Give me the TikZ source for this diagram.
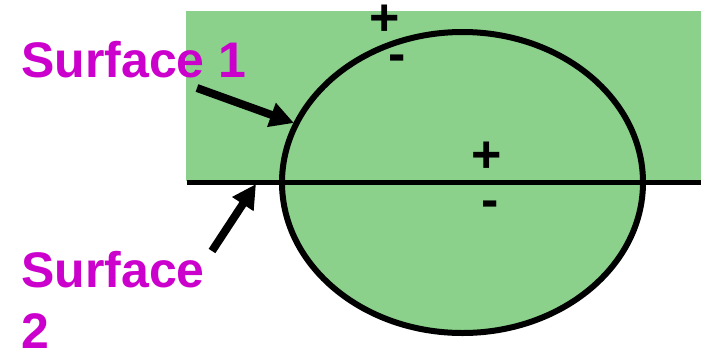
\documentclass[tikz,border=0pt]{standalone}
\usepackage{fontspec}
\setmainfont{Liberation Sans}
\usetikzlibrary{arrows.meta}
\definecolor{fillgreen}{RGB}{139,209,140}
\definecolor{labelmag}{RGB}{204,0,204}
\begin{document}
\begin{tikzpicture}[x=1pt,y=-1pt,
  lbl/.style={text=labelmag,font=\fontsize{50}{61}\selectfont\bfseries,inner sep=0pt,anchor=base west,align=left},
  sign/.style={font=\fontsize{52}{60}\selectfont\bfseries,inner sep=0pt,anchor=base},
  pointer/.style={line width=8pt,-{Triangle[length=24pt,width=24pt]}}]
\useasboundingbox (0,0) rectangle (701,349);
\fill[fillgreen] (186,11) rectangle (701,181);
\coordinate (c) at (462.5,182.5);
\draw[line width=6pt,fill=fillgreen] (c) ellipse [x radius=180.5, y radius=150.5];
\coordinate (l1) at (187,182.5);
\coordinate (l2) at (701,182.5);
\draw[line width=5pt] (l1) -- (l2);
\node[sign] (p1) at (385,35) {+};
\node[sign] (m1) at (397,71) {-};
\node[sign] (p2) at (487,172) {+};
\node[sign] (m2) at (490,217) {-};
\node[lbl] (s1) at (21,77) {Surface 1};
\node[lbl] (s2) at (21,348) {Surface\\2};
\coordinate (t1a) at (197,88);
\coordinate (t1b) at (294,123);
\coordinate (t2a) at (212,251);
\coordinate (t2b) at (256,184);
\draw[pointer] (t1a) -- (t1b);
\draw[pointer] (t2a) -- (t2b);
\end{tikzpicture}
\end{document}
